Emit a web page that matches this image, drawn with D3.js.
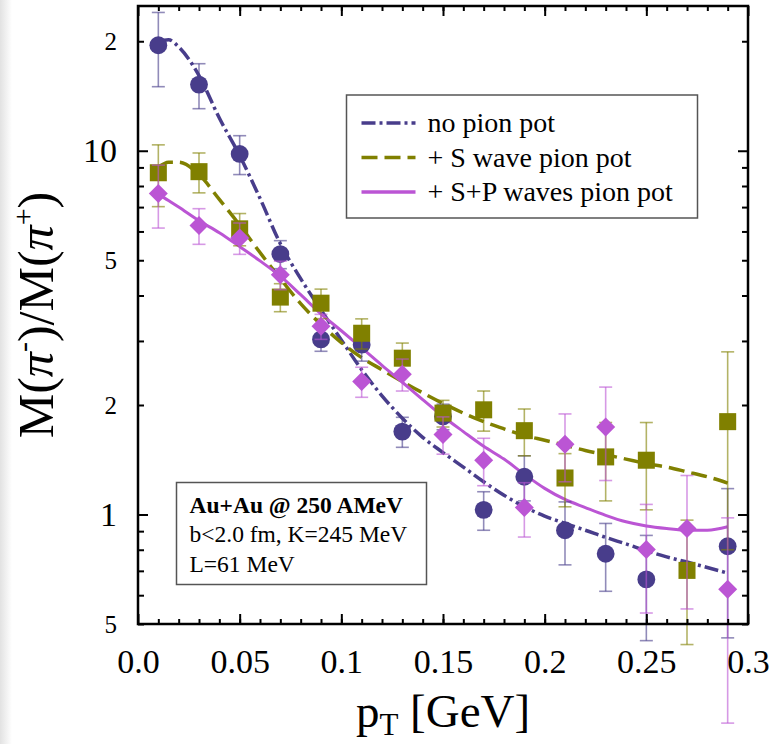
<!DOCTYPE html>
<html>
<head>
<meta charset="utf-8">
<script src="https://cdn.jsdelivr.net/npm/d3@7/dist/d3.min.js"></script>
<style>
body { margin: 0; background: #fff; }
svg text { font-family: "Liberation Serif", "Times New Roman", serif; fill: #000; }
</style>
</head>
<body>
<div id="chart"></div>
<script>
// data (pT in GeV)
let pt = [0.01, 0.03, 0.05, 0.07, 0.09, 0.11, 0.13, 0.15, 0.17, 0.19, 0.21, 0.23, 0.25, 0.27, 0.29];

let noPotVal = [19.5, 15.2, 9.8, 5.2, 3.03, 2.93, 1.69, 1.86, 1.03, 1.27, 0.905, 0.78, 0.663, null, 0.818];
let noPotErr = [4.5, 2.15, 1.2, 0.46, 0.22, 0.29, 0.16, 0.15, 0.125, 0.18, 0.178, 0.165, 0.213, null, 0.36];
let sWaveVal = [8.7, 8.76, 6.1, 3.96, 3.81, 3.15, 2.69, 1.9, 1.94, 1.7, 1.26, 1.44, 1.41, 0.702, 1.8];
let sWaveErr = [1.68, 1.1, 0.62, 0.35, 0.355, 0.3, 0.27, 0.16, 0.245, 0.25, 0.21, 0.35, 0.38, 0.263, 1.0];
let spWaveVal = [7.63, 6.23, 5.76, 4.56, 3.29, 2.32, 2.43, 1.66, 1.41, 1.045, 1.56, 1.74, 0.801, 0.915, 0.623];
let spWaveErr = [1.5, 0.7, 0.57, 0.41, 0.26, 0.22, 0.245, 0.195, 0.21, 0.178, 0.33, 0.5, 0.265, 0.365, 0.356];

// model curves
let curveX = [0.010, 0.015, 0.020, 0.030, 0.040, 0.050, 0.060, 0.070, 0.080, 0.090, 0.100, 0.110, 0.120, 0.130, 0.140,
              0.150, 0.160, 0.170, 0.180, 0.190, 0.200, 0.210, 0.220, 0.230, 0.240, 0.250, 0.260, 0.270, 0.280, 0.290];
let noPotCurve = [20.0, 20.2, 19.3, 16.1, 12.3, 9.7, 7.4, 5.55, 4.45, 3.65, 3.02, 2.5, 2.12, 1.84, 1.63,
                  1.48, 1.35, 1.23, 1.13, 1.05, 0.99, 0.945, 0.905, 0.865, 0.83, 0.795, 0.765, 0.74, 0.715, 0.69];
let sWaveCurve = [9.0, 9.3, 9.3, 8.6, 7.35, 6.25, 5.25, 4.45, 3.8, 3.33, 2.97, 2.7, 2.5, 2.32, 2.16,
                  2.02, 1.9, 1.8, 1.72, 1.65, 1.6, 1.55, 1.5, 1.46, 1.42, 1.38, 1.35, 1.31, 1.27, 1.22];
let spWaveCurve = [7.6, 7.3, 7.0, 6.42, 5.95, 5.45, 4.98, 4.52, 4.02, 3.56, 3.2, 2.87, 2.57, 2.31, 2.07,
                   1.86, 1.69, 1.54, 1.42, 1.29, 1.18, 1.1, 1.045, 0.995, 0.955, 0.93, 0.915, 0.905, 0.905, 0.925];

// ticks and labels
let xTicks = [0, 0.05, 0.1, 0.15, 0.2, 0.25, 0.3];
let xTickLabels = ["0.0", "0.05", "0.1", "0.15", "0.2", "0.25", "0.3"];
let yBigTicks = [1, 10];
let yBigLabels = ["1", "10"];
let ySmallTicks = [0.5, 2, 5, 20];
let ySmallLabels = ["5", "2", "5", "2"];
let yMinorTicks = [0.6, 0.7, 0.8, 0.9, 3, 4, 6, 7, 8, 9];

let legendNames = ["no pion pot", "+ S wave pion pot", "+ S+P waves pion pot"];
let infoLines = ["Au+Au @ 250 AMeV", "b<2.0 fm, K=245 MeV", "L=61 MeV"];

let colors = ["#483d8b", "#808000", "#bb55d4"];
let dashes = ["14,4,3,4", "16,7", null];

// set the dimensions and margins of the graph
let margin = {top: 6, right: 27, bottom: 120, left: 138},
    width = 775 - margin.left - margin.right,
    height = 744 - margin.top - margin.bottom;

let x = d3.scaleLinear().domain([0, 0.3]).range([0, width]);
let y = d3.scaleLog().domain([0.5, 25]).range([height, 0]);

let root = d3.select("#chart").append("svg")
    .attr("width", 775)
    .attr("height", 744);

// faint grey band at the left edge of the screenshot
let grad = root.append("defs").append("linearGradient").attr("id", "edge");
grad.append("stop").attr("offset", "0%").attr("stop-color", "#e2e2e2");
grad.append("stop").attr("offset", "100%").attr("stop-color", "#ffffff");
root.append("rect").attr("width", 12).attr("height", 744).attr("fill", "url(#edge)");

let svg = root.append("g")
    .attr("transform", "translate(" + margin.left + "," + margin.top + ")");

// model lines
let line = d3.line()
    .x(d => x(d[0]))
    .y(d => y(d[1]))
    .curve(d3.curveMonotoneX);

[noPotCurve, sWaveCurve, spWaveCurve].forEach(function(c, i) {
    svg.append("path")
        .datum(curveX.map((v, j) => [v, c[j]]))
        .attr("fill", "none")
        .attr("stroke", colors[i])
        .attr("stroke-width", i == 2 ? 3 : 3.5)
        .attr("stroke-dasharray", dashes[i])
        .attr("d", line);
});

// data points with error bars
function drawSeries(vals, errs, i, shape) {
    let data = pt.map((p, j) => ({x: p, v: vals[j], e: errs[j]})).filter(d => d.v != null);
    let g = svg.append("g");
    let eb = g.selectAll(".eb").data(data).enter().append("g")
        .attr("stroke", colors[i])
        .attr("stroke-opacity", 0.6)
        .attr("stroke-width", 1.6);
    eb.append("line")
        .attr("x1", d => x(d.x)).attr("x2", d => x(d.x))
        .attr("y1", d => y(d.v - d.e)).attr("y2", d => y(d.v + d.e));
    eb.append("line")
        .attr("x1", d => x(d.x) - 6.5).attr("x2", d => x(d.x) + 6.5)
        .attr("y1", d => y(d.v + d.e)).attr("y2", d => y(d.v + d.e));
    eb.append("line")
        .attr("x1", d => x(d.x) - 6.5).attr("x2", d => x(d.x) + 6.5)
        .attr("y1", d => y(d.v - d.e)).attr("y2", d => y(d.v - d.e));

    g.selectAll(".pt").data(data).enter().append("path")
        .attr("transform", d => "translate(" + x(d.x) + "," + y(d.v) + ")")
        .attr("d", d3.symbol().type(shape).size(shape == d3.symbolCircle ? 250 : (shape == d3.symbolSquare ? 290 : 230)))
        .attr("fill", colors[i]);
}
drawSeries(noPotVal, noPotErr, 0, d3.symbolCircle);
drawSeries(sWaveVal, sWaveErr, 1, d3.symbolSquare);
drawSeries(spWaveVal, spWaveErr, 2, d3.symbolDiamond2);

// axes (ticks pointing inward on all four sides)
function styleAxis(g) {
    g.select(".domain").remove();
    g.selectAll("line").attr("stroke", "#000").attr("stroke-width", 2);
}

svg.append("g")
    .attr("transform", "translate(0," + height + ")")
    .call(d3.axisBottom(x).tickValues(xTicks).tickSizeInner(-10).tickPadding(25)
        .tickFormat((d, i) => xTickLabels[i]))
    .call(styleAxis)
    .selectAll("text").attr("font-size", 34).attr("font-family", "Liberation Serif");

svg.append("g")
    .attr("transform", "translate(0," + height + ")")
    .call(d3.axisBottom(x).tickValues(d3.range(1, 30).map(k => k / 100)).tickSizeInner(-5).tickFormat(""))
    .call(styleAxis);

svg.append("g")
    .call(d3.axisTop(x).tickValues(xTicks).tickSizeInner(-10).tickFormat(""))
    .call(styleAxis);
svg.append("g")
    .call(d3.axisTop(x).tickValues(d3.range(1, 30).map(k => k / 100)).tickSizeInner(-5).tickFormat(""))
    .call(styleAxis);

svg.append("g")
    .call(d3.axisLeft(y).tickValues(yBigTicks).tickSizeInner(-10).tickPadding(21)
        .tickFormat((d, i) => yBigLabels[i]))
    .call(styleAxis)
    .selectAll("text").attr("font-size", 34).attr("font-family", "Liberation Serif");

svg.append("g")
    .call(d3.axisLeft(y).tickValues(ySmallTicks).tickSizeInner(-6).tickPadding(21)
        .tickFormat((d, i) => ySmallLabels[i]))
    .call(styleAxis)
    .selectAll("text").attr("font-size", 25).attr("font-family", "Liberation Serif");

svg.append("g")
    .call(d3.axisLeft(y).tickValues(yMinorTicks).tickSizeInner(-6).tickFormat(""))
    .call(styleAxis);

svg.append("g")
    .attr("transform", "translate(" + width + ",0)")
    .call(d3.axisRight(y).tickValues(yBigTicks).tickSizeInner(-10).tickFormat(""))
    .call(styleAxis);
svg.append("g")
    .attr("transform", "translate(" + width + ",0)")
    .call(d3.axisRight(y).tickValues(ySmallTicks.concat(yMinorTicks)).tickSizeInner(-6).tickFormat(""))
    .call(styleAxis);

// frame
svg.append("rect")
    .attr("width", width)
    .attr("height", height)
    .attr("fill", "none")
    .attr("stroke", "#000")
    .attr("stroke-width", 2.5);

// legend
let leg = svg.append("g").attr("transform", "translate(" + (346.5 - margin.left) + "," + (95 - margin.top) + ")");
leg.append("rect")
    .attr("width", 351)
    .attr("height", 123)
    .attr("fill", "#fff")
    .attr("stroke", "#555")
    .attr("stroke-width", 1.5);
legendNames.forEach(function(name, i) {
    let yy = 28 + i * 34.5;
    leg.append("line")
        .attr("x1", 15).attr("x2", 69)
        .attr("y1", yy).attr("y2", yy)
        .attr("stroke", colors[i])
        .attr("stroke-width", 3.5)
        .attr("stroke-dasharray", dashes[i]);
    leg.append("text")
        .attr("x", 81)
        .attr("y", yy + 9)
        .attr("font-size", 28)
        .attr("font-family", "Liberation Serif")
        .text(name);
});

// info box
let info = svg.append("g").attr("transform", "translate(" + (176.5 - margin.left) + "," + (482.5 - margin.top) + ")");
info.append("rect")
    .attr("width", 250)
    .attr("height", 102)
    .attr("fill", "#fff")
    .attr("stroke", "#555")
    .attr("stroke-width", 1.5);
infoLines.forEach(function(t, i) {
    info.append("text")
        .attr("x", 13)
        .attr("y", 30 + i * 29.5)
        .attr("font-size", 23.5)
        .attr("font-family", "Liberation Serif")
        .attr("font-weight", i == 0 ? "bold" : "normal")
        .text(t);
});

// x axis title
let xt = root.append("text")
    .attr("x", margin.left + width / 2)
    .attr("y", 727)
    .attr("text-anchor", "middle")
    .attr("font-size", 47);
xt.append("tspan").text("p");
xt.append("tspan").attr("font-size", 31).attr("dy", 8).text("T");
xt.append("tspan").attr("dy", -8).text(" [GeV]");

// y axis title
let yt = root.append("text")
    .attr("transform", "translate(53," + (margin.top + height / 2) + ") rotate(-90)")
    .attr("text-anchor", "middle")
    .attr("font-size", 50);
yt.append("tspan").text("M(");
yt.append("tspan").attr("font-style", "italic").text("π");
yt.append("tspan").attr("font-size", 30).attr("dy", -20).text("-");
yt.append("tspan").attr("dy", 20).text(")/M(");
yt.append("tspan").attr("font-style", "italic").text("π");
yt.append("tspan").attr("font-size", 30).attr("dy", -20).text("+");
yt.append("tspan").attr("dy", 20).text(")");
</script>
</body>
</html>
